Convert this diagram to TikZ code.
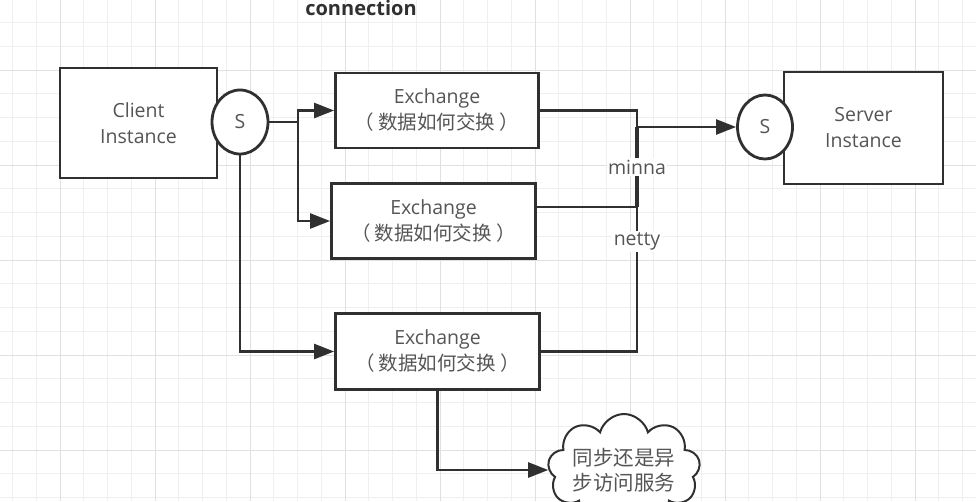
\documentclass[tikz,border=0pt]{standalone}
\usepackage{fontspec}
\setmainfont{Open Sans}
\newfontfamily\cjk{Noto Sans CJK SC}
\usetikzlibrary{shapes.geometric,shapes.symbols,arrows.meta}
\definecolor{ink}{HTML}{303030}
\definecolor{txt}{HTML}{555555}
\definecolor{gridminor}{HTML}{EFEFEF}
\definecolor{gridmajor}{HTML}{E0E0E0}

\begin{document}
\begin{tikzpicture}[%
    x=1pt, y=-1pt,              % one unit is one pixel of the screen shot
    ]
% -------------------------------------------------
% A few box styles
\tikzset{
  node font=\fontsize{19.5}{26}\selectfont,
  base/.style={draw=ink, line width=2.8pt, fill=white, text=txt, align=center, inner sep=0pt},
  box/.style={base, rectangle},
  sock/.style={base, ellipse, minimum width=56pt, minimum height=64pt},
  cld/.style={base, cloud, cloud puffs=9, cloud ignores aspect, line width=2pt,
    font=\cjk\fontsize{20.5}{25}\selectfont},
  % labels sitting on the connector lines
  lbl/.style={fill=white, text=txt, inner sep=1.5pt},
  % -------------------------------------------------
  % Connector line styles
  link/.style={draw=ink, line width=2.4pt},
  norm/.style={link, -{Triangle[length=20pt,width=15pt]}},
  bus/.style={link, line width=4pt},
}
% -------------------------------------------------
% The grid of the drawing board
\path[use as bounding box, clip] (0,0) rectangle (976,501);
\fill[white] (0,0) rectangle (976,501);
\foreach \gx in {12.5,36.25,...,976} \draw[gridminor, line width=1pt] (\gx,0) -- (\gx,501);
\foreach \gy in {-1.25,22.5,...,501} \draw[gridminor, line width=1pt] (0,\gy) -- (976,\gy);
\foreach \gx in {60,155,...,976} \draw[gridmajor, line width=1pt] (\gx,0) -- (\gx,501);
\foreach \gy in {70,165,...,501} \draw[gridmajor, line width=1pt] (0,\gy) -- (976,\gy);
% -------------------------------------------------
% Start by placing the nodes
\node [font=\fontsize{20}{24}\selectfont\bfseries, text=ink, anchor=base] (title) at (361,15) {connection};
\node [box, minimum width=157pt, minimum height=110pt] (client) at (138.5,123) {Client\\Instance};
\node [sock] (cs) at (240,122) {S};
\node [box, minimum width=203pt, minimum height=75pt] (ex1) at (437,110.5) {Exchange\\\cjk （ 数据如何交换 ）};
\node [box, minimum width=204pt, minimum height=75pt] (ex2) at (433.5,221) {Exchange\\\cjk （ 数据如何交换 ）};
\node [box, minimum width=204pt, minimum height=76pt] (ex3) at (437.5,351.5) {Exchange\\\cjk （ 数据如何交换 ）};
\node [box, minimum width=159pt, minimum height=112pt] (server) at (863.5,128) {Server\\Instance};
\node [sock, minimum width=55pt] (ss) at (765,127) {S};
\node [cld, minimum width=148pt, minimum height=112pt] (sync) at (624,470) {同步还是异\\步访问服务};
% -------------------------------------------------
% Corners of the connecting lines
\coordinate (split) at (298,122);
\coordinate (bus) at (637,127);
\coordinate (mj) at (637,207);
% -------------------------------------------------
% Client side
\draw [link] (cs.east) -- (split);
\draw [norm] (split) |- (ex1.west);
\draw [norm] (split) |- (ex2.west);
\draw [norm] (cs.south) |- (ex3.west);
% -------------------------------------------------
% Server side
\draw [link] (ex1.east) -| (bus);
\draw [link] (ex2.east |- mj) -- (mj);
\draw [link] (ex3.east) -| node [lbl, pos=0.88] {netty} (mj);
\draw [bus] (mj) -- node [lbl] {minna} (bus);
\draw [norm] (bus) -- (ss.west);
% -------------------------------------------------
% Call mode
\draw [norm] (ex3.south) |- (sync.west);
% -------------------------------------------------
\end{tikzpicture}
\end{document}
